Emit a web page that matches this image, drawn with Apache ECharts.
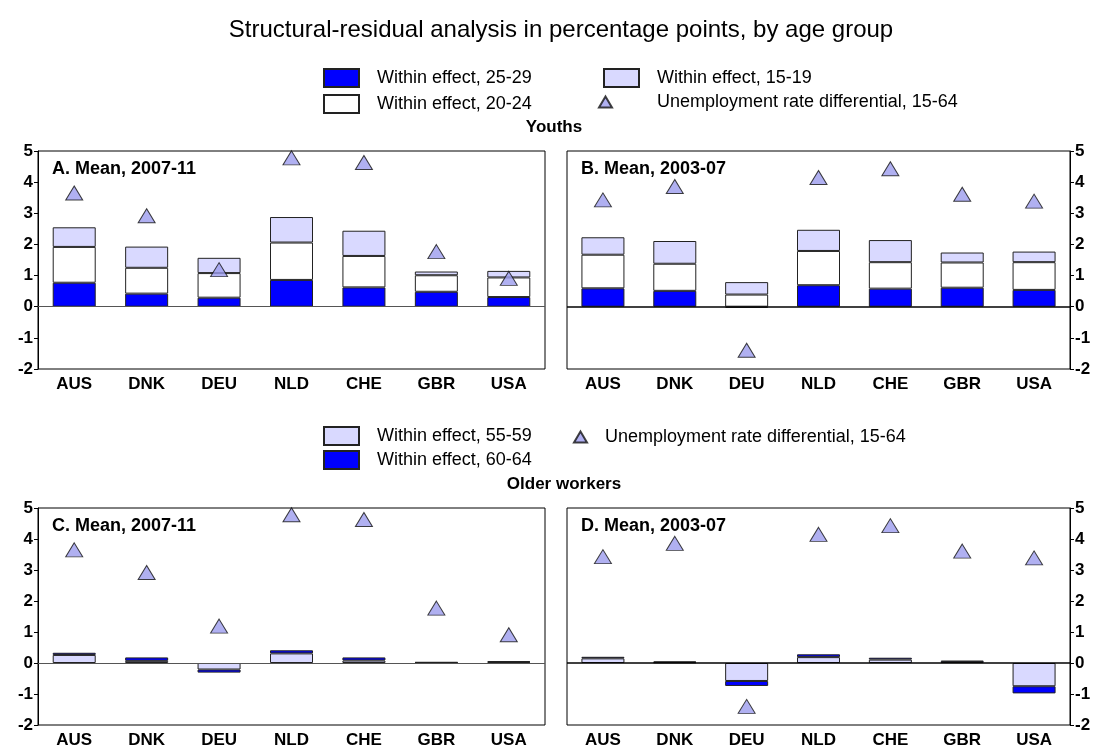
<!DOCTYPE html>
<html>
<head>
<meta charset="utf-8">
<script src="https://cdn.jsdelivr.net/npm/echarts@6/dist/echarts.min.js"></script>
<style>html,body{margin:0;padding:0;background:#fff;}#chart{width:1100px;height:749px;}</style>
</head>
<body>
<div id="chart"></div>
<script>
const categories = ['AUS', 'DNK', 'DEU', 'NLD', 'CHE', 'GBR', 'USA'];
const yTicks = [-2, -1, 0, 1, 2, 3, 4, 5];

// Panel A: Youths, mean 2007-11
const a_25_29 = [0.77, 0.42, 0.29, 0.86, 0.62, 0.48, 0.31];
const a_20_24 = [1.15, 0.83, 0.79, 1.20, 1.01, 0.53, 0.63];
const a_15_19 = [0.63, 0.68, 0.49, 0.82, 0.81, 0.12, 0.21];
const a_ur    = [3.65, 2.92, 1.19, 4.78, 4.63, 1.77, 0.91];

// Panel B: Youths, mean 2003-07
const b_25_29 = [0.59, 0.51, -0.03, 0.69, 0.58, 0.61, 0.54];
const b_20_24 = [1.08, 0.87, 0.39, 1.10, 0.85, 0.81, 0.89];
const b_15_19 = [0.56, 0.73, 0.40, 0.68, 0.71, 0.32, 0.34];
const b_ur    = [3.43, 3.86, -1.40, 4.15, 4.43, 3.61, 3.39];

// Panel C: Older workers, mean 2007-11
const c_55_59 = [0.26, 0.07, -0.21, 0.31, 0.08, 0.01, 0.03];
const c_60_64 = [0.07, 0.11, -0.10, 0.10, 0.10, 0.02, 0.03];
const c_ur    = [3.65, 2.92, 1.19, 4.78, 4.63, 1.77, 0.91];

// Panel D: Older workers, mean 2003-07
const d_55_59 = [0.15, 0.02, -0.58, 0.19, 0.11, 0.03, -0.75];
const d_60_64 = [0.05, 0.03, -0.16, 0.09, 0.06, 0.05, -0.23];
const d_ur    = [3.43, 3.86, -1.40, 4.15, 4.43, 3.61, 3.39];

const panelTitles = ['A. Mean, 2007-11', 'B. Mean, 2003-07', 'C. Mean, 2007-11', 'D. Mean, 2003-07'];

const N_25 = 'Within effect, 25-29', N_20 = 'Within effect, 20-24', N_15 = 'Within effect, 15-19';
const N_55 = 'Within effect, 55-59', N_60 = 'Within effect, 60-64';
const N_UR = 'Unemployment rate differential, 15-64';

const FONT = 'Liberation Sans, Arial, sans-serif';
const BLUE = '#0000FF', LAV = '#D9D9FF', WHITE = '#FFFFFF', TRI = '#9C9CEE', EDGE = '#222';

const grids = [
  {left: 38, top: 151, width: 507, height: 218},
  {left: 567, top: 151, width: 503, height: 218},
  {left: 38, top: 508, width: 507, height: 218},
  {left: 567, top: 508, width: 503, height: 218}
];

function barSeries(name, data, color, idx) {
  return {
    name: name, type: 'bar', stack: 'p' + idx, xAxisIndex: idx, yAxisIndex: idx,
    data: data, barWidth: 43,
    itemStyle: {color: color, borderColor: EDGE, borderWidth: 1},
    emphasis: {disabled: true}
  };
}
function triSeries(data, idx, zeroColor, zeroWidth) {
  return {
    name: N_UR, type: 'scatter', xAxisIndex: idx, yAxisIndex: idx,
    data: data, symbol: 'triangle', symbolSize: [17, 14], z: 5,
    itemStyle: {color: TRI, borderColor: '#111', borderWidth: 1},
    markLine: {
      silent: true, symbol: 'none', label: {show: false},
      lineStyle: {color: zeroColor, width: zeroWidth, type: 'solid'},
      data: [{yAxis: 0}]
    }
  };
}

const legText = {fontFamily: FONT, fontSize: 18, color: '#000', lineHeight: 18};
function legend(left, top, data, gap, padLeft, w, h) {
  return {
    left: left, top: top, orient: 'vertical', padding: 0,
    itemWidth: w || 35, itemHeight: h || 18, itemGap: gap,
    data: data, selectedMode: false,
    textStyle: Object.assign({padding: [0, 0, 0, padLeft]}, legText)
  };
}

const option = {
  animation: false,
  backgroundColor: '#fff',
  textStyle: {fontFamily: FONT},
  title: [
    {text: 'Structural-residual analysis in percentage points, by age group', left: 556, textAlign: 'center', top: 13,
     textStyle: {fontFamily: FONT, fontSize: 24, fontWeight: 'normal', color: '#000'}},
    {text: 'Youths', left: 549, top: 114, textAlign: 'center',
     textStyle: {fontFamily: FONT, fontSize: 17, fontWeight: 'bold', color: '#000'}},
    {text: 'Older workers', left: 559, top: 471, textAlign: 'center',
     textStyle: {fontFamily: FONT, fontSize: 17, fontWeight: 'bold', color: '#000'}}
  ].concat(grids.map((g, i) => ({
    text: panelTitles[i], left: g.left + 9, top: g.top + 4,
    textStyle: {fontFamily: FONT, fontSize: 18, fontWeight: 'bold', color: '#000'}
  }))),
  legend: [
    legend(323, 68, [{name: N_25, icon: 'rect'}, {name: N_20, icon: 'rect'}], 6, 13),
    legend(603, 68, [{name: N_15, icon: 'rect'}], 6, 13),
    legend(598, 93, [{name: N_UR, icon: 'triangle'}], 6, 40, 13, 11),
    legend(323, 426, [{name: N_55, icon: 'rect'}, {name: N_60, icon: 'rect'}], 4, 13),
    legend(573, 428, [{name: N_UR, icon: 'triangle'}], 6, 13, 13, 11)
  ],
  grid: grids.map(g => Object.assign({show: true, borderColor: '#000', borderWidth: 1, backgroundColor: 'transparent'}, g)),
  xAxis: grids.map((g, i) => ({
    type: 'category', gridIndex: i, data: categories, position: 'bottom',
    axisLine: {show: false, onZero: false}, axisTick: {show: false},
    axisLabel: {fontFamily: FONT, fontSize: 17, fontWeight: 'bold', color: '#000', margin: 7}
  })),
  yAxis: grids.map((g, i) => ({
    type: 'value', gridIndex: i, min: yTicks[0], max: yTicks[yTicks.length - 1], interval: 1,
    position: (i % 2 === 0) ? 'left' : 'right',
    axisLine: {show: true, lineStyle: {color: '#000'}},
    axisTick: {show: true, length: 4, lineStyle: {color: '#000'}},
    splitLine: {show: false},
    axisLabel: {fontFamily: FONT, fontSize: 17, fontWeight: 'bold', color: '#000', margin: 5}
  })),
  series: [
    barSeries(N_25, a_25_29, BLUE, 0),
    barSeries(N_20, a_20_24, WHITE, 0),
    barSeries(N_15, a_15_19, LAV, 0),
    triSeries(a_ur, 0, '#555', 1),
    barSeries(N_25, b_25_29, BLUE, 1),
    barSeries(N_20, b_20_24, WHITE, 1),
    barSeries(N_15, b_15_19, LAV, 1),
    triSeries(b_ur, 1, '#000', 1.5),
    barSeries(N_55, c_55_59, LAV, 2),
    barSeries(N_60, c_60_64, BLUE, 2),
    triSeries(c_ur, 2, '#555', 1),
    barSeries(N_55, d_55_59, LAV, 3),
    barSeries(N_60, d_60_64, BLUE, 3),
    triSeries(d_ur, 3, '#000', 1.5)
  ]
};

const chart = echarts.init(document.getElementById('chart'), null, {renderer: 'canvas'});
chart.setOption(option);
</script>
</body>
</html>
